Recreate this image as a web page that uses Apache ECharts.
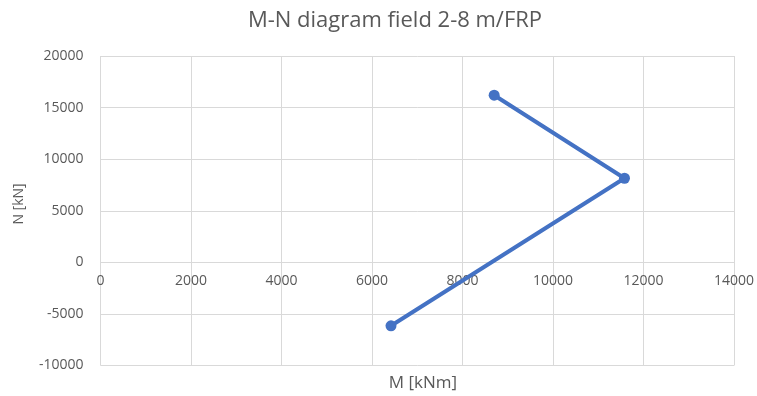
<!DOCTYPE html>
<html>
<head>
<meta charset="utf-8">
<script src="https://cdn.jsdelivr.net/npm/echarts@6/dist/echarts.min.js"></script>
<style>
  html, body { margin: 0; padding: 0; background: #ffffff; }
  #chart { width: 757px; height: 396px; }
</style>
</head>
<body>
<div id="chart"></div>
<script>
// M-N interaction points (moment in kNm, axial force in kN)
const momentM = [8700, 11580, 6420];
const axialN = [16200, 8150, -6150];

const xTicks = { min: 0, max: 14000, interval: 2000 };
const yTicks = { min: -10000, max: 20000, interval: 5000 };

const chartTitle = 'M-N diagram field 2-8 m/FRP';
const xAxisName = 'M [kNm]';
const yAxisName = 'N [kN]';

const FONT = '"Open Sans", "Noto Sans", sans-serif';
const TEXT_COLOR = '#595959';
const GRID_COLOR = '#d9d9d9';

const GRID = { left: 100.5, right: 21.5, top: 56, bottom: 30.5 };
const CHART_H = 396;

const points = momentM.map((m, i) => [m, axialN[i]]);
const plain = v => String(v);

const chart = echarts.init(document.getElementById('chart'), null, { renderer: 'canvas' });

// Pixel distance from the bottom edge of the plot up to the N = 0 line,
// so the M axis (line + labels) sits on the zero line.
const plotH = CHART_H - GRID.top - GRID.bottom;
const zeroLift = plotH * (0 - yTicks.min) / (yTicks.max - yTicks.min);

chart.setOption({
  animation: false,
  backgroundColor: '#ffffff',
  title: [
    {
      text: chartTitle,
      left: 390, top: 5, textAlign: 'center',
      textStyle: { fontFamily: FONT, fontSize: 22, fontWeight: 'normal', color: TEXT_COLOR }
    },
    {
      text: xAxisName,
      left: 418, top: 370, textAlign: 'center',
      textStyle: { fontFamily: FONT, fontSize: 17, fontWeight: 'normal', color: TEXT_COLOR }
    }
  ],
  graphic: [{
    type: 'text',
    x: 19.5, y: 204,
    rotation: Math.PI / 2,
    style: {
      text: yAxisName,
      fill: TEXT_COLOR,
      font: '14px ' + FONT,
      align: 'center',
      verticalAlign: 'middle'
    }
  }],
  grid: Object.assign({ containLabel: false }, GRID),
  xAxis: {
    type: 'value',
    min: xTicks.min, max: xTicks.max, interval: xTicks.interval,
    offset: -zeroLift,
    axisLine: { show: true, onZero: false, lineStyle: { color: GRID_COLOR, width: 1 } },
    axisTick: { show: false },
    axisLabel: { color: TEXT_COLOR, fontFamily: FONT, fontSize: 14, margin: 12, formatter: plain },
    splitLine: { show: true, lineStyle: { color: GRID_COLOR, width: 1 } }
  },
  yAxis: {
    type: 'value',
    min: yTicks.min, max: yTicks.max, interval: yTicks.interval,
    axisLine: { show: false },
    axisTick: { show: false },
    axisLabel: { color: TEXT_COLOR, fontFamily: FONT, fontSize: 14, margin: 17, formatter: plain },
    splitLine: { show: true, lineStyle: { color: GRID_COLOR, width: 1 } }
  },
  series: [{
    type: 'line',
    data: points,
    symbol: 'circle',
    symbolSize: 11,
    lineStyle: { color: '#4472C4', width: 4 },
    itemStyle: { color: '#4472C4' },
    z: 3
  }]
});
</script>
</body>
</html>
